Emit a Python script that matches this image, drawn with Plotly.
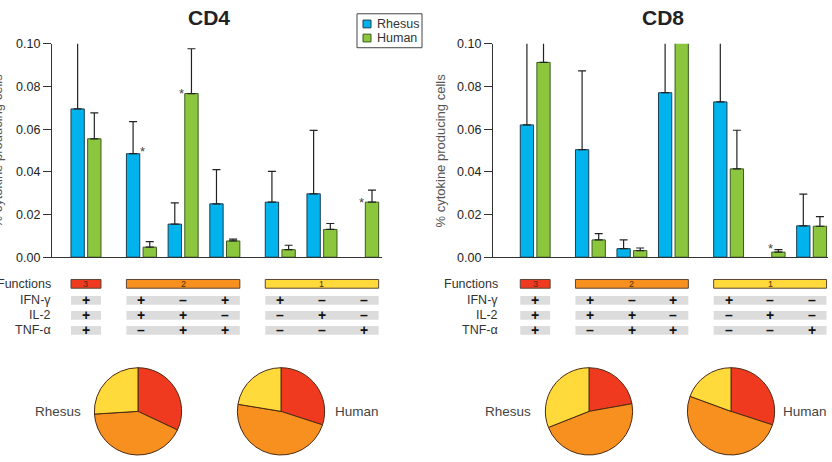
import plotly.graph_objects as go

W, H = 832, 462

# ---------------- data ----------------
categories = ["IFN+IL2+TNF+", "IFN+IL2+", "IL2+TNF+", "IFN+TNF+", "IFN+", "IL2+", "TNF+"]
functions = [3, 2, 2, 2, 1, 1, 1]
ifn_signs = ["+", "+", "–", "+", "+", "–", "–"]
il2_signs = ["+", "+", "+", "–", "–", "+", "–"]
tnf_signs = ["+", "–", "+", "+", "–", "–", "+"]

cd4_rhesus = [0.0695, 0.0485, 0.0155, 0.0250, 0.0258, 0.0297, None]
cd4_rhesus_err = [0.0400, 0.0150, 0.0100, 0.0160, 0.0144, 0.0297, None]
cd4_human = [0.0555, 0.0047, 0.0767, 0.0076, 0.0035, 0.0130, 0.0258]
cd4_human_err = [0.0121, 0.0026, 0.0210, 0.0009, 0.0021, 0.0028, 0.0056]

cd8_rhesus = [0.0620, 0.0504, 0.0040, 0.0771, 0.0728, None, 0.0147]
cd8_rhesus_err = [0.0500, 0.0369, 0.0041, 0.0400, 0.0400, None, 0.0149]
cd8_human = [0.0913, 0.0081, 0.0031, 0.1430, 0.0414, 0.0024, 0.0145]
cd8_human_err = [0.0200, 0.0029, 0.0012, 0.0200, 0.0181, 0.0011, 0.0045]

stars = [("CD4", "Rhesus", 1), ("CD4", "Human", 2), ("CD4", "Human", 6), ("CD8", "Human", 5)]

pie_labels = ["3 functions", "2 functions", "1 function"]
cd4_rhesus_pie = [0.320, 0.420, 0.260]
cd4_human_pie = [0.300, 0.476, 0.224]
cd8_rhesus_pie = [0.222, 0.468, 0.310]
cd8_human_pie = [0.300, 0.506, 0.194]

yticks = [0.00, 0.02, 0.04, 0.06, 0.08, 0.10]

# ---------------- style ----------------
FONT = "Liberation Sans, Arial, sans-serif"
BLUE = "#00B3EC"
BLUE_EDGE = "#1d3d52"
GREEN = "#8CC63F"
GREEN_EDGE = "#3b5a1f"
FUNC_COL = {3: "#F03A20", 2: "#F7901E", 1: "#FFDA3A"}
GRAY = "#DCDCDC"
TXT = "#333333"

gap = 0.33
pos = []
for i, f in enumerate(functions):
    pos.append(i + gap * (3 - f))

BW = 0.32
OFF_R = -0.36
OFF_H = 0.04


def px_x(p):
    return p / W


def px_y(p):
    return 1 - p / H


panels = {
    "CD4": dict(xa="x", ya="y", xdom=(52, 382), xr=(-0.815, 7.1), ydom=(38, 258),
                rh=cd4_rhesus, rhe=cd4_rhesus_err, hu=cd4_human, hue=cd4_human_err,
                title_x=208.5, ytitle_x=-2, label_right=53,
                pies=[(138, cd4_rhesus_pie), (281, cd4_human_pie)],
                piel=[(58, "Rhesus"), (357, "Human")]),
    "CD8": dict(xa="x2", ya="y2", xdom=(493, 828), xr=(-1.017, 7.055), ydom=(38, 258),
                rh=cd8_rhesus, rhe=cd8_rhesus_err, hu=cd8_human, hue=cd8_human_err,
                title_x=663, ytitle_x=441, label_right=500,
                pies=[(589, cd8_rhesus_pie), (731, cd8_human_pie)],
                piel=[(508, "Rhesus"), (805, "Human")]),
}

fig = go.Figure()
shapes = []
annotations = []

for name, P in panels.items():
    for vals, errs, off, col, edge, sname in [
        (P["rh"], P["rhe"], OFF_R, BLUE, BLUE_EDGE, "Rhesus"),
        (P["hu"], P["hue"], OFF_H, GREEN, GREEN_EDGE, "Human"),
    ]:
        fig.add_trace(go.Bar(
            x=pos, y=vals, width=BW, offset=off, name=sname,
            xaxis=P["xa"], yaxis=P["ya"], showlegend=False,
            marker=dict(color=col, line=dict(color=edge, width=1)),
            error_y=dict(type="data", array=errs, arrayminus=[0] * len(errs),
                         symmetric=False, color="#222222", thickness=1.2, width=4),
        ))

    annotations.append(dict(text="<b>%s</b>" % name, x=px_x(P["title_x"]), y=px_y(11),
                            xref="paper", yref="paper", showarrow=False,
                            xanchor="center", yanchor="middle",
                            font=dict(family=FONT, size=21, color="#222")))
    annotations.append(dict(text="% cytokine producing cells", x=px_x(P["ytitle_x"]), y=px_y(148),
                            xref="paper", yref="paper", showarrow=False, textangle=-90,
                            xanchor="center", yanchor="middle",
                            font=dict(family=FONT, size=13, color="#555")))

    for (pn, ser, idx) in stars:
        if pn != name:
            continue
        if ser == "Rhesus":
            yv = P["rh"][idx] + 0.0012
            xv = pos[idx] + 0.02
        else:
            yv = P["hu"][idx]
            xv = pos[idx] - 0.04
        if name == "CD8":
            xv = pos[idx]
            yv = yv + 0.0015
        annotations.append(dict(text="*", x=xv, y=yv, xref=P["xa"], yref=P["ya"],
                                showarrow=False, xanchor="center", yanchor="middle",
                                font=dict(family=FONT, size=13, color="#444")))

    rows = [("Functions", 285.5), ("IFN-γ", 302.5), ("IL-2", 318), ("TNF-α", 333.5)]
    for lab, yc in rows:
        annotations.append(dict(text=lab, x=px_x(P["label_right"]), y=px_y(yc),
                                xref="paper", yref="paper", showarrow=False,
                                xanchor="right", yanchor="middle",
                                font=dict(family=FONT, size=12.5, color=TXT)))
    for f in (3, 2, 1):
        idxs = [i for i, v in enumerate(functions) if v == f]
        x0 = pos[idxs[0]] + OFF_R
        x1 = pos[idxs[-1]] + OFF_H + BW
        shapes.append(dict(type="rect", xref=P["xa"], yref="paper", x0=x0, x1=x1,
                           y0=px_y(290), y1=px_y(281), fillcolor=FUNC_COL[f],
                           line=dict(color="#5a4636", width=1), layer="above"))
        annotations.append(dict(text=str(f), x=(x0 + x1) / 2, y=px_y(285.5),
                                xref=P["xa"], yref="paper", showarrow=False,
                                xanchor="center", yanchor="middle",
                                font=dict(family=FONT, size=9, color="#5a2a10")))
        for yc in (302.5, 318, 333.5):
            shapes.append(dict(type="rect", xref=P["xa"], yref="paper", x0=x0, x1=x1,
                               y0=px_y(yc + 4.5), y1=px_y(yc - 4.5), fillcolor=GRAY,
                               line=dict(width=0), layer="below"))
    for i in range(len(categories)):
        for signs, yc in ((ifn_signs, 302.5), (il2_signs, 318), (tnf_signs, 333.5)):
            annotations.append(dict(text="<b>%s</b>" % signs[i], x=pos[i], y=px_y(yc),
                                    xref=P["xa"], yref="paper", showarrow=False,
                                    xanchor="center", yanchor="middle",
                                    font=dict(family=FONT, size=14, color="#111")))

    for (cx, vals) in P["pies"]:
        fig.add_trace(go.Pie(
            values=vals, labels=pie_labels, sort=False, direction="clockwise", rotation=0,
            textinfo="none", showlegend=False,
            marker=dict(colors=[FUNC_COL[3], FUNC_COL[2], FUNC_COL[1]],
                        line=dict(color="#4a2a12", width=1)),
            domain=dict(x=[px_x(cx - 45), px_x(cx + 45)], y=[0, 1 - 372 / H]),
        ))
    for (lx, lab) in P["piel"]:
        annotations.append(dict(text=lab, x=px_x(lx), y=px_y(417), xref="paper", yref="paper",
                                showarrow=False, xanchor="center", yanchor="middle",
                                font=dict(family=FONT, size=13.5, color="#444")))

# legend drawn by hand
shapes.append(dict(type="rect", xref="paper", yref="paper", x0=px_x(357), x1=px_x(422),
                   y0=px_y(42), y1=px_y(7), line=dict(color="#444", width=1), fillcolor="white"))
for yc, col, edge, lab in ((17.5, BLUE, BLUE_EDGE, "Rhesus"), (32, GREEN, GREEN_EDGE, "Human")):
    shapes.append(dict(type="rect", xref="paper", yref="paper", x0=px_x(363), x1=px_x(371),
                       y0=px_y(yc + 4), y1=px_y(yc - 4), fillcolor=col,
                       line=dict(color=edge, width=1)))
    annotations.append(dict(text=lab, x=px_x(375), y=px_y(yc), xref="paper", yref="paper",
                            showarrow=False, xanchor="left", yanchor="middle",
                            font=dict(family=FONT, size=12.5, color="#333")))

axis_common = dict(showgrid=False, zeroline=False, showline=True, linecolor="#333", linewidth=1.2)
layout = dict(
    width=W, height=H, margin=dict(l=0, r=0, t=0, b=0),
    paper_bgcolor="white", plot_bgcolor="rgba(0,0,0,0)",
    barmode="overlay", showlegend=False,
    font=dict(family=FONT, color=TXT),
    shapes=shapes, annotations=annotations,
)
for name, P in panels.items():
    xk = "xaxis" if P["xa"] == "x" else "xaxis2"
    yk = "yaxis" if P["ya"] == "y" else "yaxis2"
    layout[xk] = dict(domain=[px_x(P["xdom"][0]), px_x(P["xdom"][1])], range=list(P["xr"]),
                      showticklabels=False, ticks="", fixedrange=True,
                      anchor=P["ya"], **axis_common)
    layout[yk] = dict(domain=[px_y(P["ydom"][1]), px_y(P["ydom"][0])], range=[0, 0.1],
                      tickvals=yticks, tickformat=".2f", ticks="outside", ticklen=8,
                      tickcolor="#333", tickwidth=1.2,
                      tickfont=dict(family=FONT, size=12.5, color="#222"),
                      anchor=P["xa"], **axis_common)

fig.update_layout(**layout)
fig.write_html("out.html")
